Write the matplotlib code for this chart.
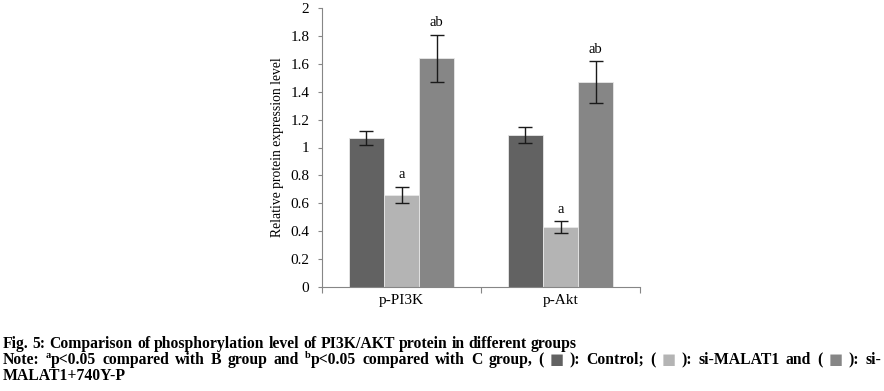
import numpy as np
import matplotlib
matplotlib.use('Agg')
import matplotlib.pyplot as plt

plt.rcParams['font.family'] = ['Liberation Serif', 'DejaVu Serif']

categories = ['p-PI3K', 'p-Akt']
groups = ['Control', 'si-MALAT1', 'si-MALAT1+740Y-P']
means = {
    'Control': [1.07, 1.09],
    'si-MALAT1': [0.66, 0.43],
    'si-MALAT1+740Y-P': [1.64, 1.47],
}
errors = {
    'Control': [0.05, 0.06],
    'si-MALAT1': [0.06, 0.04],
    'si-MALAT1+740Y-P': [0.17, 0.15],
}
marks = {
    'Control': ['', ''],
    'si-MALAT1': ['a', 'a'],
    'si-MALAT1+740Y-P': ['ab', 'ab'],
}
colors = {'Control': '#626262', 'si-MALAT1': '#b4b4b4', 'si-MALAT1+740Y-P': '#868686'}
yticks = [0, 0.2, 0.4, 0.6, 0.8, 1, 1.2, 1.4, 1.6, 1.8, 2]

W, H = 884, 391
fig = plt.figure(figsize=(W / 100, H / 100), dpi=100)
ax = fig.add_axes([322 / W, (H - 287) / H, (640 - 322) / W, (287 - 8) / H])

x = np.arange(len(categories))
bw = 0.222
for i, g in enumerate(groups):
    pos = x + (i - 1) * bw
    ax.bar(pos, means[g], bw, color=colors[g], edgecolor='#e8e8e8', linewidth=0.6)
    ax.errorbar(pos, means[g], yerr=errors[g], fmt='none', ecolor='#1a1a1a',
                elinewidth=1, capsize=5, capthick=1)
    for p, m, e, t in zip(pos, means[g], errors[g], marks[g]):
        if t:
            ax.text(p, m + e + 0.06, t, ha='center', va='baseline', fontsize=10.5)

ax.set_xlim(-0.5, 1.5)
ax.set_ylim(0, 2)
ax.set_yticks(yticks)
ax.set_yticklabels([f'{v:g}' for v in yticks], fontsize=11)
ax.set_xticks([-0.5, 0.5, 1.5], minor=False)
ax.set_xticklabels([])
ax.set_xticks(x, minor=True)
ax.set_xticklabels(categories, minor=True, fontsize=11)
ax.tick_params(axis='x', which='major', length=4, color='#868686', direction='out')
ax.tick_params(axis='x', which='minor', length=0, pad=5)
ax.tick_params(axis='y', length=3, color='#868686', pad=6)
for s in ['top', 'right']:
    ax.spines[s].set_visible(False)
for s in ['left', 'bottom']:
    ax.spines[s].set_color('#868686')
ax.set_ylabel('Relative protein expression level', fontsize=9.8, labelpad=5)

# caption
fig.canvas.draw()
renderer = fig.canvas.get_renderer()
cap_size = 11.3
base = dict(fontsize=cap_size, fontweight='bold', va='baseline', ha='left')


def put(x_px, y_px, s, measure=False, dy=0, **kw):
    st = dict(base)
    st.update(kw)
    t = fig.text(x_px / W, 1 - (y_px - dy) / H, s, **st)
    w = t.get_window_extent(renderer).width
    if measure:
        t.remove()
    return w


def line(words, x0, y_px, right=None):
    # words: list of lists of (text, style dict)
    widths = [sum(put(0, 0, s, measure=True, **st) for s, st in w) for w in words]
    gap = put(0, 0, 'a a', measure=True) - put(0, 0, 'aa', measure=True)
    if right is not None and len(words) > 1:
        gap = (right - x0 - sum(widths)) / (len(words) - 1)
    cx = x0
    for w, wd in zip(words, widths):
        for s, st in w:
            cx += put(cx, y_px, s, **st)
        cx += gap


sup = dict(fontsize=cap_size * 0.65, dy=6)
box = dict(family=['DejaVu Sans'], fontsize=cap_size * 0.95, dy=-0.5)
plain = {}
line1 = 'Fig. 5: Comparison of phosphorylation level of PI3K/AKT protein in different groups'
line([[(w, plain)] for w in line1.split()], 3, 348)

words2 = [[('Note:', plain)], [('a', sup), ('p<0.05', plain)]]
words2 += [[(w, plain)] for w in 'compared with B group and'.split()]
words2 += [[('b', sup), ('p<0.05', plain)]]
words2 += [[(w, plain)] for w in 'compared with C group,'.split()]
legend_words = [('Control;', 'Control'), ('si-MALAT1 and', 'si-MALAT1'), ('si-', 'si-MALAT1+740Y-P')]
for label, g in legend_words:
    words2 += [[('(', plain)], [('\u25A0', dict(box, color=colors[g]))], [('):', plain)]]
    words2 += [[(w, plain)] for w in label.split()]
line(words2, 3, 364, right=881)
line([[('MALAT1+740Y-P', plain)]], 3, 380)

fig.savefig('out.png', dpi=100)
